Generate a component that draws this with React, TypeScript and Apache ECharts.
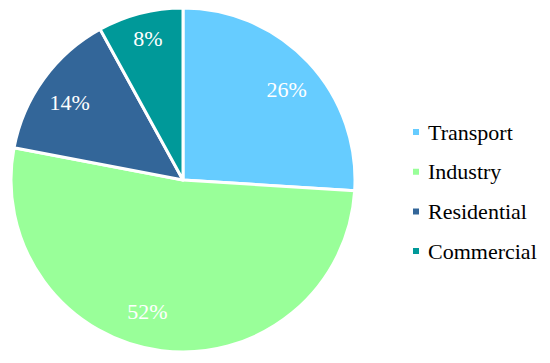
import React, { useEffect, useRef } from "react";
import * as echarts from "echarts";

const categories = ["Transport", "Industry", "Residential", "Commercial"];
const shares = [26, 52, 14, 8];
const colors = ["#66CCFF", "#99FF99", "#336699", "#009999"];

// label placement tuning (fraction of radius, angle shift in degrees)
const labelRadiusFrac = [0.8, 0.79, 0.8, 0.85];
const labelAngleShift = [2, 8, -1.5, 0.5];

const CX = 183;
const CY = 180;
const R = 172;
const FONT = "'Liberation Serif', 'Times New Roman', serif";

export default function App() {
  const ref = useRef<HTMLDivElement>(null);
  useEffect(() => {
    if (!ref.current) return;
    const chart = echarts.init(ref.current, null, { renderer: "svg" });
    const total = shares.reduce((a, b) => a + b, 0);
    const mids: number[] = [];
    let acc = 0;
    shares.forEach((v) => {
      mids.push(((acc + v / 2) / total) * 360);
      acc += v;
    });
    chart.setOption({
      animation: false,
      backgroundColor: "#ffffff",
      textStyle: { fontFamily: FONT },
      legend: {
        orient: "vertical",
        left: 411,
        top: 121,
        padding: 0,
        icon: "rect",
        itemWidth: 8,
        itemHeight: 8,
        itemGap: 17.7,
        selectedMode: false,
        data: categories,
        textStyle: {
          fontFamily: FONT,
          fontSize: 22,
          lineHeight: 22,
          color: "#000",
          padding: [0, 0, 0, 3],
        },
      },
      series: [
        {
          type: "pie",
          center: [CX, CY],
          radius: [0, R],
          startAngle: 90,
          clockwise: true,
          silent: true,
          emphasis: { disabled: true },
          itemStyle: { borderColor: "#ffffff", borderWidth: 3 },
          label: {
            show: true,
            position: "inside",
            formatter: "{d}%",
            fontFamily: FONT,
            fontSize: 22,
            color: "#ffffff",
          },
          labelLine: { show: false },
          labelLayout: (params: any) => {
            const i = params.dataIndex;
            const ang = ((mids[i] + labelAngleShift[i]) * Math.PI) / 180;
            const d = R * labelRadiusFrac[i];
            return {
              x: CX + d * Math.sin(ang),
              y: CY - d * Math.cos(ang),
              align: "center",
              verticalAlign: "middle",
            };
          },
          data: categories.map((name, i) => ({
            name,
            value: shares[i],
            itemStyle: { color: colors[i] },
          })),
        },
      ],
    });
    return () => chart.dispose();
  }, []);
  return (
    <div
      ref={ref}
      style={{ position: "fixed", left: 0, top: 0, width: 550, height: 363 }}
    />
  );
}
